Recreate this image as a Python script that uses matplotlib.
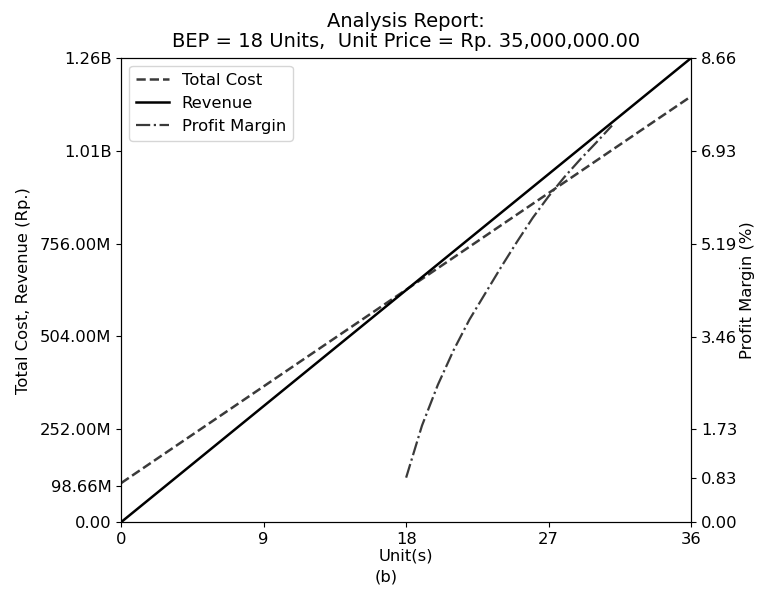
import matplotlib
matplotlib.use("Agg")
import matplotlib.pyplot as plt

# units and values
units_line = [0, 36]
total_cost = [106e6, 1156e6]
revenue = [0, 1260e6]

units_margin = [18, 19, 20, 21, 22, 23, 24, 25, 26, 27, 28, 29, 30, 31]
profit_margin = [0.83, 1.80, 2.56, 3.21, 3.78, 4.27, 4.76, 5.23, 5.68, 6.08, 6.44, 6.77, 7.08, 7.40]

x_ticks = [0, 9, 18, 27, 36]
left_ticks = [0, 98.66e6, 252e6, 504e6, 756e6, 1.008e9, 1.26e9]
left_labels = ["0.00", "98.66M", "252.00M", "504.00M", "756.00M", "1.01B", "1.26B"]
right_ticks = [0, 0.83, 1.73, 3.46, 5.19, 6.93, 8.66]

plt.rcParams['font.size'] = 11.8
fig, ax = plt.subplots(figsize=(7.57, 5.92), dpi=100)
fig.subplots_adjust(left=0.16, right=0.913, top=0.902, bottom=0.118)

l1, = ax.plot(units_line, total_cost, '--', color='#3a3a3a', lw=1.8, label='Total Cost')
l2, = ax.plot(units_line, revenue, '-', color='black', lw=1.8, label='Revenue')
ax.set_xlim(0, 36)
ax.set_ylim(0, 1.26e9)
ax.set_xticks(x_ticks)
ax.set_yticks(left_ticks)
ax.set_yticklabels(left_labels)
ax.set_xlabel("Unit(s)", labelpad=1)
ax.set_ylabel("Total Cost, Revenue (Rp.)", labelpad=6)

ax2 = ax.twinx()
l3, = ax2.plot(units_margin, profit_margin, '-.', color='#3a3a3a', lw=1.6, label='Profit Margin')
ax2.set_ylim(0, 8.66)
ax2.set_yticks(right_ticks)
ax2.set_yticklabels(["%.2f" % t for t in right_ticks])
ax2.set_ylabel("Profit Margin (%)", labelpad=2)

ax.legend(handles=[l1, l2, l3], loc='upper left')
ax.set_title("Analysis Report:\nBEP = 18 Units,  Unit Price = Rp. 35,000,000.00",
             fontsize=14, pad=8, linespacing=1.05)

fig.text(0.51, 0.025, "(b)", ha='center', va='center', fontsize=11.8)

fig.savefig("out.png")
